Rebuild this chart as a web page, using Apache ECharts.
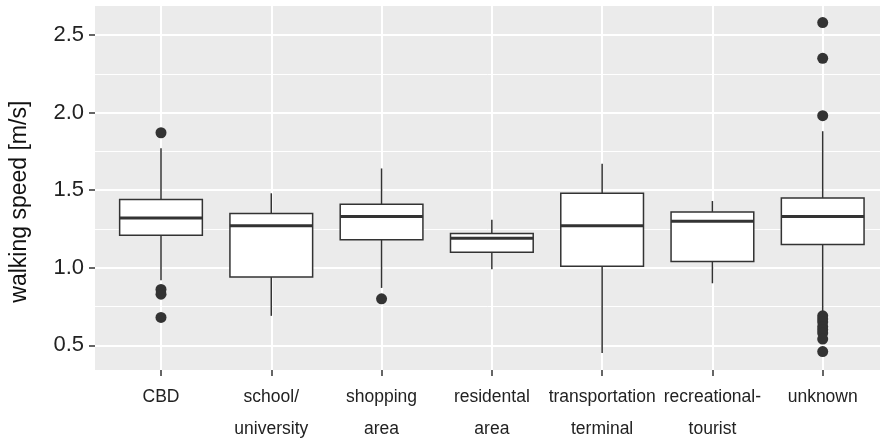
<!DOCTYPE html>
<html>
<head>
<meta charset="utf-8">
<title>walking speed by location</title>
<script src="https://cdn.jsdelivr.net/npm/echarts@6/dist/echarts.min.js"></script>
<style>
  html, body { margin: 0; padding: 0; background: #ffffff; }
  #chart { width: 880px; height: 439px; }
</style>
</head>
<body>
<div id="chart"></div>
<script>
// Location categories (x axis)
const categories = ['CBD', 'school/\nuniversity', 'shopping\narea', 'residental\narea',
  'transportation\nterminal', 'recreational-\ntourist', 'unknown'];

// Five-number summaries per location, walking speed in m/s
const whiskerLow  = [0.92, 0.69, 0.87, 0.99, 0.45, 0.90, 0.71];
const quartile1   = [1.21, 0.94, 1.18, 1.10, 1.01, 1.04, 1.15];
const median      = [1.32, 1.27, 1.33, 1.19, 1.27, 1.30, 1.33];
const quartile3   = [1.44, 1.35, 1.41, 1.22, 1.48, 1.36, 1.45];
const whiskerHigh = [1.77, 1.48, 1.64, 1.31, 1.67, 1.43, 1.88];

// Points beyond the whiskers
const outliers = [
  [1.87, 0.86, 0.83, 0.68],
  [],
  [0.80],
  [],
  [],
  [],
  [2.58, 2.35, 1.98, 0.69, 0.67, 0.65, 0.62, 0.60, 0.58, 0.54, 0.46]
];

// y axis tick values
const yTicks = [0.5, 1.0, 1.5, 2.0, 2.5];
const yRange = [0.341, 2.687];

const boxData = categories.map((c, i) =>
  [i, whiskerLow[i], quartile1[i], median[i], quartile3[i], whiskerHigh[i]]);
const outlierData = [];
outliers.forEach((vals, i) => vals.forEach(v => outlierData.push([i, v])));

const ink = '#333333';
const font = '"Liberation Sans", Arial, sans-serif';

function renderBox(params, api) {
  const x = api.value(0);
  const pLow = api.coord([x, api.value(1)]);
  const pQ1 = api.coord([x, api.value(2)]);
  const pMed = api.coord([x, api.value(3)]);
  const pQ3 = api.coord([x, api.value(4)]);
  const pHigh = api.coord([x, api.value(5)]);
  const half = api.size([1, 0])[0] * 0.375;
  const cx = pMed[0];
  const stroke = { stroke: ink, lineWidth: 1.5 };
  return {
    type: 'group',
    children: [
      { type: 'line', shape: { x1: cx, y1: pHigh[1], x2: cx, y2: pQ3[1] }, style: stroke },
      { type: 'line', shape: { x1: cx, y1: pQ1[1], x2: cx, y2: pLow[1] }, style: stroke },
      { type: 'rect', shape: { x: cx - half, y: pQ3[1], width: half * 2, height: pQ1[1] - pQ3[1] },
        style: { fill: '#ffffff', stroke: ink, lineWidth: 1.5 } },
      { type: 'line', shape: { x1: cx - half, y1: pMed[1], x2: cx + half, y2: pMed[1] },
        style: { stroke: ink, lineWidth: 3 } }
    ]
  };
}

const chart = echarts.init(document.getElementById('chart'), null, { renderer: 'canvas' });
chart.setOption({
  animation: false,
  textStyle: { fontFamily: font },
  grid: [
    // panel: background, y axis, horizontal grid lines
    { left: 95, right: 0, top: 6, height: 364, show: true, backgroundColor: '#EBEBEB', borderWidth: 0,
      containLabel: false, outerBoundsMode: 'none' },
    // category positions
    { left: 161, right: 57.3, top: 6, height: 364, containLabel: false, outerBoundsMode: 'none' }
  ],
  xAxis: [
    { gridIndex: 0, type: 'value', min: 0, max: 1, show: false },
    {
      gridIndex: 1, type: 'category', data: categories, boundaryGap: false,
      axisLine: { show: false },
      axisTick: { show: true, interval: 0, length: 6, lineStyle: { color: ink, width: 1.5 } },
      axisLabel: { interval: 0, margin: 11, fontSize: 17.5, lineHeight: 32, color: '#222222', fontFamily: font },
      splitLine: { show: true, interval: 0, lineStyle: { color: '#ffffff', width: 2 } }
    }
  ],
  yAxis: [
    {
      gridIndex: 0, type: 'value', min: yRange[0], max: yRange[1],
      axisLine: { show: false },
      axisTick: { show: true, customValues: yTicks, length: 6, lineStyle: { color: ink, width: 1.5 } },
      axisLabel: { customValues: yTicks, margin: 11, fontSize: 22, color: '#222222', fontFamily: font,
        formatter: v => v.toFixed(1) },
      splitLine: { show: true, lineStyle: { color: '#ffffff', width: 2 } },
      minorTick: { show: false, splitNumber: 2 },
      minorSplitLine: { show: true, lineStyle: { color: '#ffffff', width: 1 } }
    },
    { gridIndex: 1, type: 'value', min: yRange[0], max: yRange[1], show: false }
  ],
  graphic: [
    {
      type: 'text', x: 20, y: 201.7, rotation: Math.PI / 2,
      style: { text: 'walking speed [m/s]', fontSize: 23, fontFamily: font, fill: '#111111',
        align: 'center', verticalAlign: 'middle' }
    }
  ],
  series: [
    {
      type: 'custom', xAxisIndex: 1, yAxisIndex: 1, clip: false,
      renderItem: renderBox, data: boxData,
      encode: { x: 0, y: [1, 2, 3, 4, 5] }, z: 3
    },
    {
      type: 'scatter', xAxisIndex: 1, yAxisIndex: 1, data: outlierData,
      symbol: 'circle', symbolSize: 11, itemStyle: { color: ink, opacity: 1 }, z: 4
    }
  ]
});
</script>
</body>
</html>
